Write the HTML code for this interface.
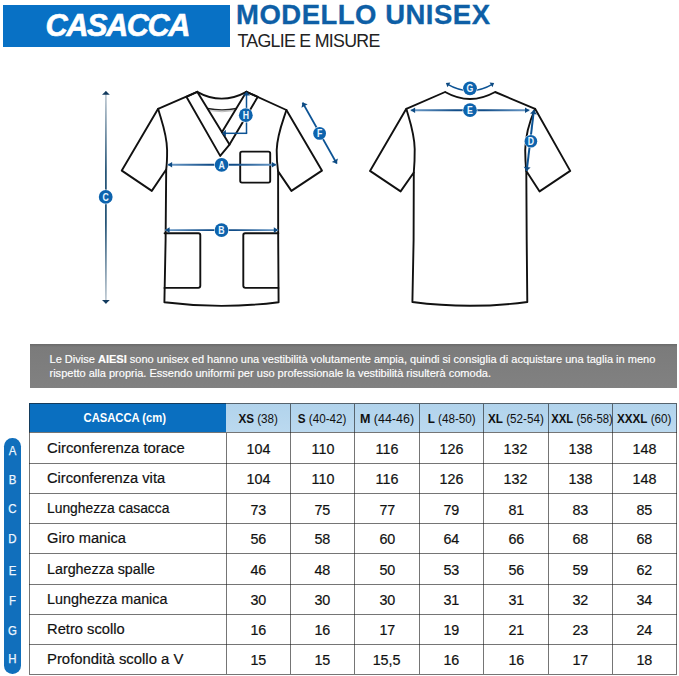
<!DOCTYPE html>
<html>
<head>
<meta charset="utf-8">
<title>Casacca - Modello Unisex - Taglie e misure</title>
<style>
html,body{margin:0;padding:0;background:#fff;}
body{width:679px;height:676px;position:relative;overflow:hidden;font-family:"Liberation Sans",sans-serif;color:#111;}
.abs{position:absolute;white-space:nowrap;}
#banner{left:2.6px;top:4.9px;width:227.9px;height:41.8px;background:#0871c5;}
#casacca{left:45.5px;top:7.5px;font-size:30.8px;line-height:36px;font-weight:bold;font-style:italic;color:#fff;letter-spacing:-1.5px;transform-origin:0 0;-webkit-text-stroke:0.6px #fff;}
#modello{left:236px;top:-1.7px;font-size:27.5px;line-height:34px;font-weight:bold;color:#0e5fa6;-webkit-text-stroke:0.3px #0e5fa6;letter-spacing:0.5px;transform-origin:0 0;}
#taglie{left:237.5px;top:29.8px;font-size:17.8px;line-height:22px;color:#222;letter-spacing:-0.72px;transform-origin:0 0;}
#note{left:30px;top:344.1px;width:647px;height:44.4px;background:linear-gradient(#6a6a6a 0,#7b7b7b 7%,#818181 100%);}
.nl{color:#fff;-webkit-text-stroke:0.15px #fff;font-size:11.04px;line-height:14px;left:49.5px;transform-origin:0 0;}
#diagram{left:0;top:0;}
/* table */
.cell{position:absolute;box-sizing:border-box;}
.hl{position:absolute;background:rgba(25,25,25,0.6);height:1px;left:28.5px;width:648.7px;}
.vl{position:absolute;background:rgba(25,25,25,0.6);width:1px;top:403.7px;height:270.1px;}
.hd{position:absolute;top:404px;height:28px;background:#b9d7ee;}
.ht{position:absolute;top:405px;height:29px;line-height:29px;font-size:12.5px;text-align:center;color:#111;white-space:nowrap;}
.hs{display:inline-block;transform:scaleX(0.935);}
.ht b{font-weight:bold;}
.lab{position:absolute;left:47.3px;font-size:15.3px;line-height:30px;height:30px;white-space:nowrap;color:#111;-webkit-text-stroke:0.2px #111;transform-origin:0 50%;transform:scaleX(0.958);}
.num{position:absolute;width:64px;text-align:center;font-size:15px;line-height:30px;height:30px;color:#111;-webkit-text-stroke:0.2px #111;}
.num span{display:inline-block;transform:scaleX(0.955);}
#pill{left:4px;top:437.7px;width:16.6px;height:236px;border-radius:8.3px;background:#116fbc;}
.pl{position:absolute;left:3.7px;width:17px;text-align:center;color:#eef7ff;font-size:13px;line-height:14px;height:14px;transform:scaleX(0.88);-webkit-text-stroke:0.25px #eef7ff;}
</style>
</head>
<body>
<div class="abs" id="banner"></div>
<div class="abs" id="casacca">CASACCA</div>
<div class="abs" id="modello">MODELLO UNISEX</div>
<div class="abs" id="taglie">TAGLIE E MISURE</div>

<svg class="abs" id="diagram" width="679" height="340" viewBox="0 0 679 340">
<defs><linearGradient id="g1" gradientUnits="userSpaceOnUse" x1="105.9" y1="90.9" x2="105.9" y2="303.8"><stop offset="0" stop-color="#c3ccd4"/><stop offset="0.38" stop-color="#0e4268"/><stop offset="0.62" stop-color="#0e4268"/><stop offset="1" stop-color="#c3ccd4"/></linearGradient><linearGradient id="g2" gradientUnits="userSpaceOnUse" x1="167.7" y1="164.8" x2="276.3" y2="164.8"><stop offset="0" stop-color="#6f9ecb"/><stop offset="0.38" stop-color="#124d88"/><stop offset="0.62" stop-color="#124d88"/><stop offset="1" stop-color="#6f9ecb"/></linearGradient><linearGradient id="g3" gradientUnits="userSpaceOnUse" x1="165.2" y1="230.1" x2="278.2" y2="230.1"><stop offset="0" stop-color="#6f9ecb"/><stop offset="0.38" stop-color="#124d88"/><stop offset="0.62" stop-color="#124d88"/><stop offset="1" stop-color="#6f9ecb"/></linearGradient><linearGradient id="g4" gradientUnits="userSpaceOnUse" x1="410.7" y1="110.2" x2="529.4" y2="110.2"><stop offset="0" stop-color="#6f9ecb"/><stop offset="0.38" stop-color="#124d88"/><stop offset="0.62" stop-color="#124d88"/><stop offset="1" stop-color="#6f9ecb"/></linearGradient></defs>
<path d="M197.2 91.8 L158.1 108.8 L121.8 170.6 L151.8 190.9 L166.2 169.5 L165.6 240 L164.4 302.2 Q221.5 309.5 278.6 302.2 L278.2 240 L278.1 171.4 L291.4 190.9 L321.9 170.6 L286.4 110 L246.4 91.8" fill="none" stroke="#111" stroke-width="1.9" stroke-linejoin="round" stroke-linecap="round" />
<path d="M158.1 108.8 C161.5 121 166.9 134 167.1 150 Q167.2 162 166.2 169.5" fill="none" stroke="#111" stroke-width="1.9" stroke-linejoin="round" stroke-linecap="round" />
<path d="M286.4 110 C283 121 277.2 134 276.7 150 Q276.6 162 278.1 171.4" fill="none" stroke="#111" stroke-width="1.9" stroke-linejoin="round" stroke-linecap="round" />
<path d="M197.2 91.8 Q221.5 105.5 246.4 91.8" fill="none" stroke="#111" stroke-width="1.9" stroke-linejoin="round" stroke-linecap="round" />
<path d="M207.6 108.5 Q222 111.2 236.4 108.5" fill="none" stroke="#222" stroke-width="1.3" stroke-linejoin="round" stroke-linecap="round" />
<path d="M209 110.6 Q222 113 235 110.6" fill="none" stroke="#aaa" stroke-width="0.8" stroke-linejoin="round" stroke-linecap="round" />
<path d="M197.2 91.8 L186.4 96.8 L220.2 155.9 L229.5 144.6 Z" fill="none" stroke="#111" stroke-width="1.9" stroke-linejoin="round" stroke-linecap="round" />
<path d="M246.4 91.8 L221.9 132.3" fill="none" stroke="#111" stroke-width="1.9" stroke-linejoin="round" stroke-linecap="round" />
<path d="M246.4 91.8 L257.8 96.8 L229.5 144.6" fill="none" stroke="#111" stroke-width="1.9" stroke-linejoin="round" stroke-linecap="round" />
<rect x="240.2" y="151.6" width="30" height="31" rx="1.8" fill="none" stroke="#111" stroke-width="1.9"/>
<path d="M164.6 233.3 L198.4 233.3 Q200.3 233.3 200.3 235.2 L200.3 285.8 Q200.3 287.9 198.2 287.9 L164.5 287.9" fill="none" stroke="#111" stroke-width="1.9" stroke-linejoin="round" stroke-linecap="round" />
<path d="M278.3 233.3 L245.2 233.3 Q243.3 233.3 243.3 235.2 L243.3 285.8 Q243.3 287.9 245.4 287.9 L278.4 287.9" fill="none" stroke="#111" stroke-width="1.9" stroke-linejoin="round" stroke-linecap="round" />
<path d="M445.1 92 L406.3 108.8 L370 170.9 L400.6 191.4 L413.8 172.5 L413.6 240 L412.4 302 Q470 309.6 527.3 302 L526.7 240 L526.3 171 L539.6 191.4 L570.2 170.9 L535.1 108.8 L495.1 92 Q470 106 445.1 92" fill="none" stroke="#111" stroke-width="1.9" stroke-linejoin="round" stroke-linecap="round" />
<path d="M406.3 108.8 C409.5 120 414.4 133 414.7 149 Q414.8 162 413.8 172.5" fill="none" stroke="#111" stroke-width="1.9" stroke-linejoin="round" stroke-linecap="round" />
<path d="M535.1 108.8 C531 118 525.5 132 525.2 150 Q525.3 162 526.2 171" fill="none" stroke="#111" stroke-width="1.9" stroke-linejoin="round" stroke-linecap="round" />
<path d="M105.9 90.9 L105.9 303.8" fill="none" stroke="url(#g1)" stroke-width="1.6"/>
<polygon points="105.9,90.9 109.8,94.8 102.0,94.8" fill="#123a5e"/>
<polygon points="105.9,303.8 102.0,299.9 109.8,299.9" fill="#123a5e"/>
<circle cx="105.7" cy="196.9" r="7.4" fill="#fff"/>
<circle cx="105.7" cy="196.9" r="6.9" fill="#0d63ad"/>
<text transform="translate(105.7,200.6) scale(0.84,1)" x="0" y="0" text-anchor="middle" font-family="Liberation Sans, sans-serif" font-weight="bold" font-size="10.4" fill="#eaf6ff">C</text>
<path d="M167.7 164.8 L276.3 164.8" fill="none" stroke="url(#g2)" stroke-width="1.9"/>
<polygon points="167.7,164.8 172.1,162.0 172.1,167.6" fill="#0d4a82"/>
<polygon points="276.3,164.8 271.9,167.6 271.9,162.0" fill="#0d4a82"/>
<circle cx="221.6" cy="164.8" r="7.4" fill="#fff"/>
<circle cx="221.6" cy="164.8" r="6.9" fill="#0d63ad"/>
<text transform="translate(221.6,168.5) scale(0.84,1)" x="0" y="0" text-anchor="middle" font-family="Liberation Sans, sans-serif" font-weight="bold" font-size="10.4" fill="#eaf6ff">A</text>
<path d="M165.2 230.1 L278.2 230.1" fill="none" stroke="url(#g3)" stroke-width="1.9"/>
<polygon points="165.2,230.1 169.6,227.3 169.6,232.9" fill="#0d4a82"/>
<polygon points="278.2,230.1 273.8,232.9 273.8,227.3" fill="#0d4a82"/>
<circle cx="221.5" cy="230.1" r="7.4" fill="#fff"/>
<circle cx="221.5" cy="230.1" r="6.9" fill="#0d63ad"/>
<text transform="translate(221.5,233.79999999999998) scale(0.84,1)" x="0" y="0" text-anchor="middle" font-family="Liberation Sans, sans-serif" font-weight="bold" font-size="10.4" fill="#eaf6ff">B</text>
<path d="M246.5 93 L246.5 133.3" fill="none" stroke="#0c5394" stroke-width="1.5"/>
<polygon points="246.5,91.6 250.0,95.5 243.0,95.5" fill="#0d4a82"/>
<path d="M224 133.3 L247.2 133.3" fill="none" stroke="#0c5394" stroke-width="1.5"/>
<polygon points="222.0,133.3 225.9,129.8 225.9,136.8" fill="#0d4a82"/>
<circle cx="245.8" cy="115.2" r="7.4" fill="#fff"/>
<circle cx="245.8" cy="115.2" r="6.9" fill="#0d63ad"/>
<text transform="translate(245.8,118.9) scale(0.84,1)" x="0" y="0" text-anchor="middle" font-family="Liberation Sans, sans-serif" font-weight="bold" font-size="10.4" fill="#eaf6ff">H</text>
<path d="M302.6 102.6 L336.8 163.6" fill="none" stroke="#0c5394" stroke-width="1.9"/>
<polygon points="302.6,102.6 307.6,104.3 301.5,107.7" fill="#0d4a82"/>
<polygon points="336.8,163.6 331.8,161.9 337.9,158.5" fill="#0d4a82"/>
<circle cx="319.6" cy="133.4" r="6.9" fill="#fff"/>
<circle cx="319.6" cy="133.4" r="6.4" fill="#0d63ad"/>
<text transform="translate(319.6,137.1) scale(0.84,1)" x="0" y="0" text-anchor="middle" font-family="Liberation Sans, sans-serif" font-weight="bold" font-size="10.4" fill="#eaf6ff">F</text>
<path d="M447.3 84.2 Q470 97.5 492.7 84.2" fill="none" stroke="#0c5394" stroke-width="1.5"/>
<polygon points="445.9,83.0 450.4,82.6 447.5,87.2" fill="#0d4a82"/>
<polygon points="494.1,83.0 492.5,87.2 489.6,82.6" fill="#0d4a82"/>
<circle cx="470" cy="88.3" r="7.4" fill="#fff"/>
<circle cx="470" cy="88.3" r="6.9" fill="#0d63ad"/>
<text transform="translate(470,92.0) scale(0.84,1)" x="0" y="0" text-anchor="middle" font-family="Liberation Sans, sans-serif" font-weight="bold" font-size="10.4" fill="#eaf6ff">G</text>
<path d="M410.7 110.2 L529.4 110.2" fill="none" stroke="url(#g4)" stroke-width="1.9"/>
<polygon points="410.7,110.2 415.1,107.4 415.1,113.0" fill="#0d4a82"/>
<polygon points="529.4,110.2 525.0,113.0 525.0,107.4" fill="#0d4a82"/>
<circle cx="470" cy="110.2" r="7.4" fill="#fff"/>
<circle cx="470" cy="110.2" r="6.9" fill="#0d63ad"/>
<text transform="translate(470,113.9) scale(0.84,1)" x="0" y="0" text-anchor="middle" font-family="Liberation Sans, sans-serif" font-weight="bold" font-size="10.4" fill="#eaf6ff">E</text>
<path d="M533.9 110.1 L526.7 171.0" fill="none" stroke="#0c5394" stroke-width="2.0"/>
<polygon points="533.9,110.1 536.9,114.4 530.0,113.6" fill="#0d4a82"/>
<polygon points="526.7,171.0 523.7,166.7 530.6,167.5" fill="#0d4a82"/>
<circle cx="530.9" cy="141.2" r="6.8" fill="#fff"/>
<circle cx="530.9" cy="141.2" r="6.3" fill="#0d63ad"/>
<text transform="translate(530.9,144.89999999999998) scale(0.84,1)" x="0" y="0" text-anchor="middle" font-family="Liberation Sans, sans-serif" font-weight="bold" font-size="10.4" fill="#eaf6ff">D</text>
</svg>

<div class="abs" id="note"></div>
<div class="abs nl" style="top:352.3px">Le Divise <b>AIESI</b> sono unisex ed hanno una vestibilità volutamente ampia, quindi si consiglia di acquistare una taglia in meno</div>
<div class="abs nl" style="top:365.6px">rispetto alla propria. Essendo uniformi per uso professionale la vestibilità risulterà comoda.</div>

<div id="table">
<div class="abs" style="left:29px;top:403.2px;width:197px;height:29.19999999999999px;background:#0a6fc0"></div>
<div class="abs" style="left:226px;top:403.2px;width:450.70000000000005px;height:29.19999999999999px;background:linear-gradient(#b1d3ec,#bbd9ef)"></div>
<div class="abs" id="hcas" style="left:29px;top:403.2px;width:197px;height:29.19999999999999px;line-height:29.19999999999999px;text-align:center;color:#fff;font-weight:bold;font-size:13px"><span style="display:inline-block;transform:translateX(-3px) scaleX(0.863)">CASACCA (cm)</span></div>
<div class="ht" style="left:226px;width:64.39999999999998px"><span class="hs"><b>XS</b> (38)</span></div>
<div class="ht" style="left:290.4px;width:64.30000000000001px"><span class="hs"><b>S</b> (40-42)</span></div>
<div class="ht" style="left:354.7px;width:64.60000000000002px"><span class="hs" style="transform:scaleX(1.0)"><b>M</b> (44-46)</span></div>
<div class="ht" style="left:419.3px;width:64.19999999999999px"><span class="hs"><b>L</b> (48-50)</span></div>
<div class="ht" style="left:483.5px;width:64.70000000000005px"><span class="hs"><b>XL</b> (52-54)</span></div>
<div class="ht" style="left:548.2px;width:64.19999999999993px"><span class="hs" style="transform:scaleX(0.905)"><b>XXL</b> (56-58)</span></div>
<div class="ht" style="left:612.4px;width:64.30000000000007px"><span class="hs"><b>XXXL</b> (60)</span></div>
<div class="hl" style="top:402.70px"></div>
<div class="hl" style="top:431.90px"></div>
<div class="hl" style="top:462.50px"></div>
<div class="hl" style="top:492.75px"></div>
<div class="hl" style="top:522.80px"></div>
<div class="hl" style="top:553.25px"></div>
<div class="hl" style="top:583.90px"></div>
<div class="hl" style="top:613.90px"></div>
<div class="hl" style="top:644.30px"></div>
<div class="hl" style="top:673.80px"></div>
<div class="vl" style="left:28.50px"></div>
<div class="vl" style="left:225.50px;top:432.9px;height:240.9px"></div>
<div class="vl" style="left:289.90px"></div>
<div class="vl" style="left:354.20px"></div>
<div class="vl" style="left:418.80px"></div>
<div class="vl" style="left:483.00px"></div>
<div class="vl" style="left:547.70px"></div>
<div class="vl" style="left:611.90px"></div>
<div class="vl" style="left:676.20px"></div>
<div class="lab" style="top:432.50px;transform:scaleX(0.97)">Circonferenza torace</div>
<div class="num" style="left:226.0px;width:64.4px;top:433.80px"><span>104</span></div>
<div class="num" style="left:290.4px;width:64.3px;top:433.80px"><span>110</span></div>
<div class="num" style="left:354.7px;width:64.6px;top:433.80px"><span>116</span></div>
<div class="num" style="left:419.3px;width:64.2px;top:433.80px"><span>126</span></div>
<div class="num" style="left:483.5px;width:64.7px;top:433.80px"><span>132</span></div>
<div class="num" style="left:548.2px;width:64.2px;top:433.80px"><span>138</span></div>
<div class="num" style="left:612.4px;width:64.3px;top:433.80px"><span>148</span></div>
<div class="lab" style="top:462.50px;transform:scaleX(0.958)">Circonferenza vita</div>
<div class="num" style="left:226.0px;width:64.4px;top:463.80px"><span>104</span></div>
<div class="num" style="left:290.4px;width:64.3px;top:463.80px"><span>110</span></div>
<div class="num" style="left:354.7px;width:64.6px;top:463.80px"><span>116</span></div>
<div class="num" style="left:419.3px;width:64.2px;top:463.80px"><span>126</span></div>
<div class="num" style="left:483.5px;width:64.7px;top:463.80px"><span>132</span></div>
<div class="num" style="left:548.2px;width:64.2px;top:463.80px"><span>138</span></div>
<div class="num" style="left:612.4px;width:64.3px;top:463.80px"><span>148</span></div>
<div class="lab" style="top:493.25px;transform:scaleX(0.905)">Lunghezza casacca</div>
<div class="num" style="left:226.0px;width:64.4px;top:494.55px"><span>73</span></div>
<div class="num" style="left:290.4px;width:64.3px;top:494.55px"><span>75</span></div>
<div class="num" style="left:354.7px;width:64.6px;top:494.55px"><span>77</span></div>
<div class="num" style="left:419.3px;width:64.2px;top:494.55px"><span>79</span></div>
<div class="num" style="left:483.5px;width:64.7px;top:494.55px"><span>81</span></div>
<div class="num" style="left:548.2px;width:64.2px;top:494.55px"><span>83</span></div>
<div class="num" style="left:612.4px;width:64.3px;top:494.55px"><span>85</span></div>
<div class="lab" style="top:522.80px;transform:scaleX(0.958)">Giro manica</div>
<div class="num" style="left:226.0px;width:64.4px;top:524.10px"><span>56</span></div>
<div class="num" style="left:290.4px;width:64.3px;top:524.10px"><span>58</span></div>
<div class="num" style="left:354.7px;width:64.6px;top:524.10px"><span>60</span></div>
<div class="num" style="left:419.3px;width:64.2px;top:524.10px"><span>64</span></div>
<div class="num" style="left:483.5px;width:64.7px;top:524.10px"><span>66</span></div>
<div class="num" style="left:548.2px;width:64.2px;top:524.10px"><span>68</span></div>
<div class="num" style="left:612.4px;width:64.3px;top:524.10px"><span>68</span></div>
<div class="lab" style="top:553.70px;transform:scaleX(0.934)">Larghezza spalle</div>
<div class="num" style="left:226.0px;width:64.4px;top:555.00px"><span>46</span></div>
<div class="num" style="left:290.4px;width:64.3px;top:555.00px"><span>48</span></div>
<div class="num" style="left:354.7px;width:64.6px;top:555.00px"><span>50</span></div>
<div class="num" style="left:419.3px;width:64.2px;top:555.00px"><span>53</span></div>
<div class="num" style="left:483.5px;width:64.7px;top:555.00px"><span>56</span></div>
<div class="num" style="left:548.2px;width:64.2px;top:555.00px"><span>59</span></div>
<div class="num" style="left:612.4px;width:64.3px;top:555.00px"><span>62</span></div>
<div class="lab" style="top:583.75px;transform:scaleX(0.938)">Lunghezza manica</div>
<div class="num" style="left:226.0px;width:64.4px;top:585.05px"><span>30</span></div>
<div class="num" style="left:290.4px;width:64.3px;top:585.05px"><span>30</span></div>
<div class="num" style="left:354.7px;width:64.6px;top:585.05px"><span>30</span></div>
<div class="num" style="left:419.3px;width:64.2px;top:585.05px"><span>31</span></div>
<div class="num" style="left:483.5px;width:64.7px;top:585.05px"><span>31</span></div>
<div class="num" style="left:548.2px;width:64.2px;top:585.05px"><span>32</span></div>
<div class="num" style="left:612.4px;width:64.3px;top:585.05px"><span>34</span></div>
<div class="lab" style="top:613.75px;transform:scaleX(0.962)">Retro scollo</div>
<div class="num" style="left:226.0px;width:64.4px;top:615.05px"><span>16</span></div>
<div class="num" style="left:290.4px;width:64.3px;top:615.05px"><span>16</span></div>
<div class="num" style="left:354.7px;width:64.6px;top:615.05px"><span>17</span></div>
<div class="num" style="left:419.3px;width:64.2px;top:615.05px"><span>19</span></div>
<div class="num" style="left:483.5px;width:64.7px;top:615.05px"><span>21</span></div>
<div class="num" style="left:548.2px;width:64.2px;top:615.05px"><span>23</span></div>
<div class="num" style="left:612.4px;width:64.3px;top:615.05px"><span>24</span></div>
<div class="lab" style="top:643.50px;transform:scaleX(0.972)">Profondità scollo a V</div>
<div class="num" style="left:226.0px;width:64.4px;top:644.80px"><span>15</span></div>
<div class="num" style="left:290.4px;width:64.3px;top:644.80px"><span>15</span></div>
<div class="num" style="left:354.7px;width:64.6px;top:644.80px"><span>15,5</span></div>
<div class="num" style="left:419.3px;width:64.2px;top:644.80px"><span>16</span></div>
<div class="num" style="left:483.5px;width:64.7px;top:644.80px"><span>16</span></div>
<div class="num" style="left:548.2px;width:64.2px;top:644.80px"><span>17</span></div>
<div class="num" style="left:612.4px;width:64.3px;top:644.80px"><span>18</span></div>
<div class="abs" id="pill"></div>
<div class="pl" style="top:443.90px">A</div>
<div class="pl" style="top:472.70px">B</div>
<div class="pl" style="top:502.30px">C</div>
<div class="pl" style="top:531.70px">D</div>
<div class="pl" style="top:564.20px">E</div>
<div class="pl" style="top:593.80px">F</div>
<div class="pl" style="top:623.90px">G</div>
<div class="pl" style="top:651.50px">H</div>
</div>
</body>
</html>
